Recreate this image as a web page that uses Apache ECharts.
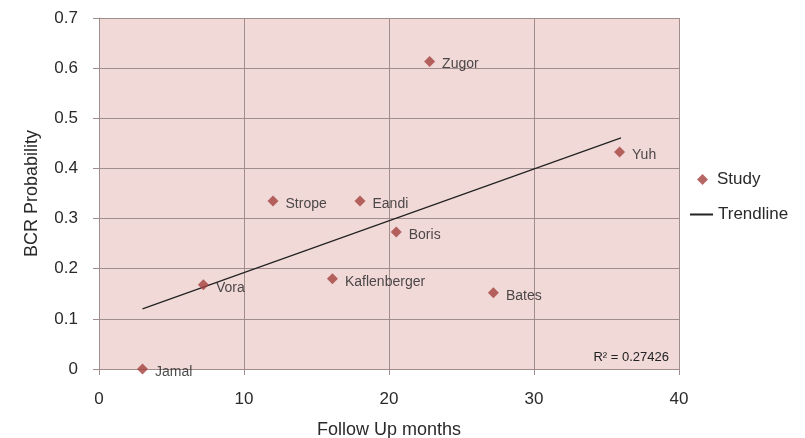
<!DOCTYPE html>
<html><head><meta charset="utf-8">
<script src="https://cdn.jsdelivr.net/npm/echarts@6/dist/echarts.min.js"></script>
<style>html,body{margin:0;padding:0;background:#fff;}#c{width:805px;height:438px;}</style>
</head><body><div id="c"></div>
<script>
const studies = ['Jamal','Vora','Strope','Eandi','Boris','Kaflenberger','Bates','Zugor','Yuh'];
const followUp = [3.0, 7.2, 12.0, 18.0, 20.5, 16.1, 27.2, 22.8, 35.9];
const bcrProb = [0.0, 0.168, 0.335, 0.335, 0.273, 0.18, 0.152, 0.613, 0.433];
const trendX = [3.0, 36.0];
const trendY = [0.12, 0.461];
const rSquared = 'R² = 0.27426';

const chart = echarts.init(document.getElementById('c'));
const pts = studies.map((n,i)=>({name:n, value:[followUp[i], bcrProb[i]]}));
const txt = '#2a2a2a';
const gridLine = '#a08e8e';
const ff = 'Liberation Sans, Arial, sans-serif';
chart.setOption({
  animation:false,
  textStyle:{fontFamily:ff},
  grid:{left:99,right:126,top:18,bottom:69,show:true,backgroundColor:'#f1d9d8',borderWidth:0,
        containLabel:false,outerBoundsMode:'none'},
  xAxis:{type:'value',min:0,max:40,interval:10,
    name:'Follow Up months',nameLocation:'middle',nameGap:52,
    nameTextStyle:{color:txt,fontSize:18},
    axisLine:{show:true,lineStyle:{color:gridLine}},
    axisTick:{show:true,length:6,lineStyle:{color:gridLine}},
    axisLabel:{color:txt,fontSize:17,margin:22},
    splitLine:{show:true,lineStyle:{color:gridLine,width:1}}},
  yAxis:{type:'value',min:0,max:0.7,interval:0.1,
    name:'BCR Probability',nameLocation:'middle',nameGap:58,
    nameTextStyle:{color:txt,fontSize:18},
    axisLine:{show:true,lineStyle:{color:gridLine}},
    axisTick:{show:true,length:6,lineStyle:{color:gridLine}},
    axisLabel:{color:txt,fontSize:17,margin:21,formatter:v=>+v.toFixed(1)+''},
    splitLine:{show:true,lineStyle:{color:gridLine,width:1}}},
  legend:[
    {orient:'vertical',left:692,top:166,itemWidth:11,itemHeight:11,
     textStyle:{color:txt,fontSize:17,padding:[0,0,0,4]},
     data:[{name:'Study',icon:'diamond'}]},
    {orient:'vertical',left:685,top:201,itemWidth:23,itemHeight:2,
     textStyle:{color:txt,fontSize:17},
     data:[{name:'Trendline',icon:'rect'}]}
  ],
  series:[
    {name:'Study',type:'scatter',symbol:'diamond',symbolSize:11,
     itemStyle:{color:'#a4413f'},
     data:pts,
     label:{show:true,position:'right',distance:7,offset:[0,3],formatter:p=>p.name,color:'#222',fontSize:14}},
    {name:'Trendline',type:'line',symbol:'none',
     lineStyle:{color:'#222',width:1.2},itemStyle:{color:'#222'},
     data:trendX.map((x,i)=>[x,trendY[i]]),z:1},
  ],
  graphic:[{type:'text',right:805-669,top:351,style:{text:rSquared,fill:'#222',font:'13px Liberation Sans, Arial, sans-serif'}}]
});
</script></body></html>
